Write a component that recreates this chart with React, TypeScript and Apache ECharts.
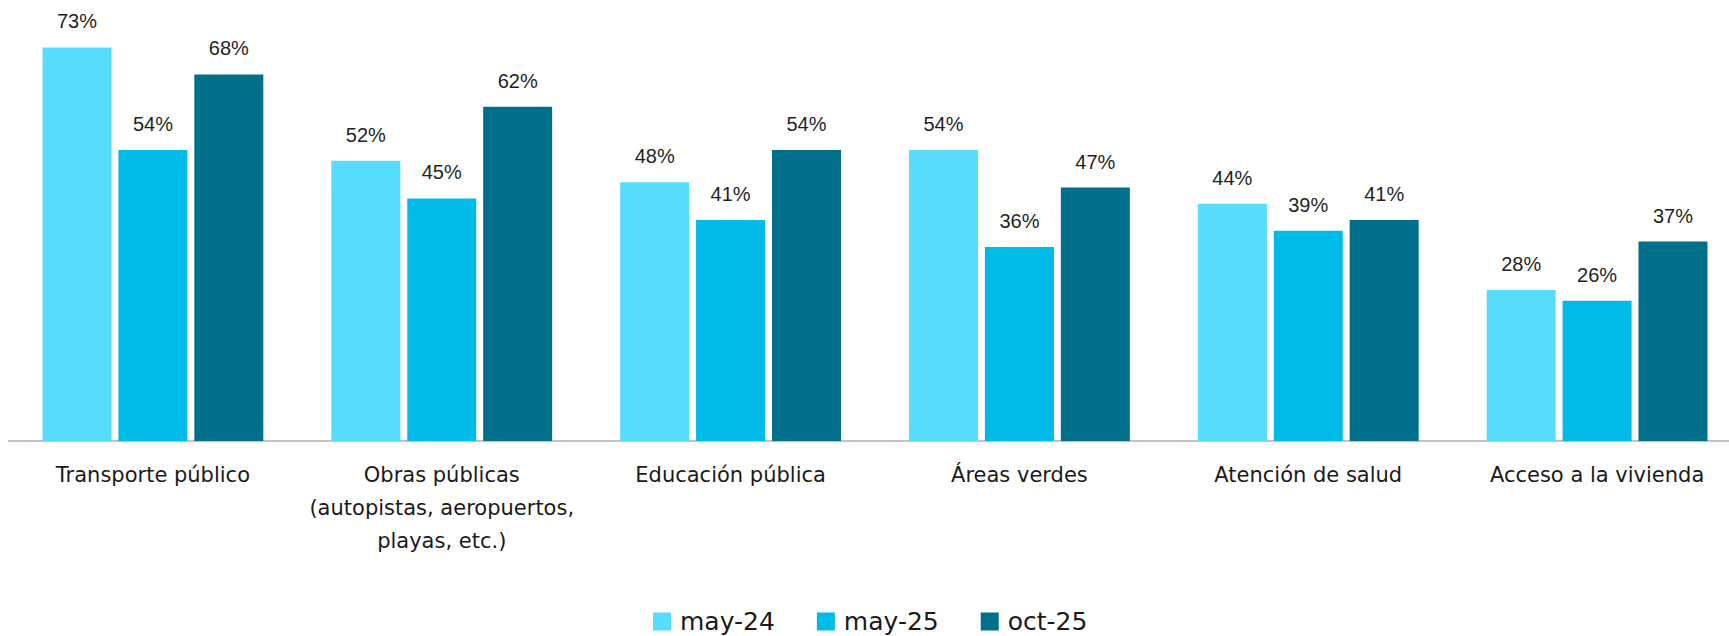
import React, { useEffect, useRef } from "react";
import * as echarts from "echarts";

const categories = [
  "Transporte público",
  "Obras públicas\n(autopistas, aeropuertos,\nplayas, etc.)",
  "Educación pública",
  "Áreas verdes",
  "Atención de salud",
  "Acceso a la vivienda",
];
const seriesNames = ["may-24", "may-25", "oct-25"];
const may24 = [73, 52, 48, 54, 44, 28];
const may25 = [54, 45, 41, 36, 39, 26];
const oct25 = [68, 62, 54, 47, 41, 37];
const colors = ["#57DCFE", "#00BAE8", "#006F8A"];

export default function App() {
  const ref = useRef<HTMLDivElement>(null);
  useEffect(() => {
    if (!ref.current) return;
    const chart = echarts.init(ref.current, null, { renderer: "svg" });
    const values = [may24, may25, oct25];
    chart.setOption({
      animation: false,
      backgroundColor: "#ffffff",
      grid: { left: 8.5, top: 0, width: 1733, height: 441 },
      legend: {
        data: seriesNames,
        left: 653,
        top: 609,
        padding: 0,
        itemWidth: 18,
        itemHeight: 18,
        itemGap: 42,
        icon: "rect",
        textStyle: {
          fontFamily: "DejaVu Sans",
          fontSize: 25,
          color: "#1a1a1a",
          padding: [0, 0, 0, 4],
        },
      },
      xAxis: {
        type: "category",
        data: categories,
        axisTick: { show: false },
        axisLine: { lineStyle: { color: "#AFAFAF", width: 1.5 } },
        axisLabel: {
          interval: 0,
          margin: 17,
          lineHeight: 33,
          fontSize: 21,
          fontFamily: "DejaVu Sans",
          color: "#1a1a1a",
        },
      },
      yAxis: { type: "value", min: 0, max: 81.8, show: false, splitLine: { show: false } },
      series: seriesNames.map((name, i) => ({
        name,
        type: "bar",
        data: values[i],
        barWidth: 69,
        barGap: "10%",
        itemStyle: { color: colors[i] },
        label: {
          show: true,
          position: "top",
          distance: 16,
          formatter: "{c}%",
          fontFamily: "Liberation Sans",
          fontSize: 20,
          color: "#1f1f1f",
        },
      })),
    });
    return () => chart.dispose();
  }, []);
  return (
    <div
      style={{
        position: "absolute",
        left: 0,
        top: 0,
        width: 1729,
        height: 636,
        overflow: "hidden",
        background: "#ffffff",
      }}
    >
      <div ref={ref} style={{ width: 1748, height: 636 }} />
    </div>
  );
}
